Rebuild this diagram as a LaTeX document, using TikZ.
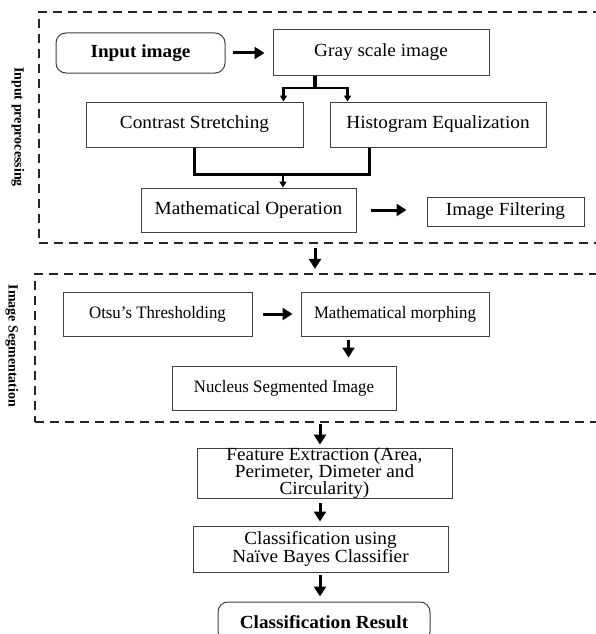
\documentclass[tikz,border=0pt]{standalone}
\usepackage{fontspec}
\setmainfont[FakeStretch=1.04]{Liberation Serif}
\newfontfamily\tagfont{Liberation Serif}
\newfontfamily\segfont[FakeStretch=0.96]{Liberation Serif}
\usetikzlibrary{arrows.meta,calc}
\tikzset{
    proc/.style =   {rectangle,
                    draw=black!75,
                    fill=white,
                    text=black,
                    line width=1pt,
                    inner sep=0pt,
                    align=center,
                    font=\fontsize{18.5}{17}\selectfont},
    seg/.style =    {proc,
                    font=\segfont\fontsize{17.5}{17}\selectfont},
    term/.style =   {proc,
                    rounded corners=10pt,
                    font=\fontsize{18.5}{17}\selectfont\bfseries},
    stage/.style =  {rectangle,
                    draw=black!85,
                    dash pattern=on 9pt off 6pt,
                    line width=2.2pt,
                    inner sep=0pt},
    tag/.style =    {rotate=-90,
                    inner sep=0pt,
                    font=\tagfont\fontsize{14}{14}\selectfont\bfseries},
    -,
    flow/.style =   {line width=3pt,
                    -{Triangle[length=10pt,width=12pt]}},
    branch/.style = {line width=2.5pt,
                    -{Triangle[length=6pt,width=7pt]}},
    wire/.style =   {line width=3pt}}

\begin{document}
\begin{tikzpicture}[x=1pt,y=-1pt]
                \useasboundingbox (0,0) rectangle (596,634);
                \node[stage, minimum width=571pt, minimum height=231pt] (pre) at (324.5,127.5) {};
                \node[stage, minimum width=575pt, minimum height=148pt] (segbox) at (322.5,348) {};
                \node[tag]  (pretag) at (18,127) {Input preprocessing};
                \node[tag]  (segtag) at (12,346) {Image Segmentation};

                \node[term, minimum width=169pt, minimum height=40pt] (input)    at (140.5,53)   {Input image};
                \node[proc, minimum width=216pt, minimum height=45pt] (gray)     at (381,52.5)   {Gray scale image};
                \node[proc, minimum width=217pt, minimum height=45pt] (contrast) at (194.5,124.5) {Contrast Stretching};
                \node[proc, minimum width=216pt, minimum height=45pt] (hist)     at (438,124.5)  {Histogram Equalization};
                \node[proc, minimum width=215pt, minimum height=44pt] (math)     at (248.5,210)  {Mathematical Operation};
                \node[proc, minimum width=157pt, minimum height=29pt] (filter)   at (505.5,211.5) {Image Filtering};
                \node[seg,  minimum width=189pt, minimum height=44pt] (otsu)     at (157.5,314)  {Otsu’s Thresholding};
                \node[seg,  minimum width=188pt, minimum height=44pt] (morph)    at (395,314)    {Mathematical morphing};
                \node[seg,  minimum width=224pt, minimum height=44pt] (nucleus)  at (284,388)    {Nucleus Segmented Image};
                \node[proc, minimum width=255pt, minimum height=45pt] (feature)  at (324.5,473.5) {Feature Extraction (Area,\\Perimeter, Dimeter and\\Circularity)};
                \node[proc, minimum width=255pt, minimum height=46pt] (naive)    at (320.5,549)  {Classification using\\Naïve Bayes Classifier};
                \node[term, minimum width=212pt, minimum height=40pt] (result)   at (324,622)    {Classification Result};

                \coordinate (axis)  at (315,0);
                \coordinate (col)   at (320,0);
                \coordinate (split) at (315,88);
                \coordinate (merge) at (283,174);
                \coordinate (left)  at ($(contrast.north east)+(-20,0)$);
                \coordinate (right) at ($(hist.north west)+(18,0)$);
                \coordinate (mdrop) at ($(morph.south west)+(48,0)$);

                \draw[flow, shorten <=7pt, shorten >=8pt]   (input) -- (input -| gray.west);
                \draw[wire, line width=4pt]                 (axis |- gray.south) -- (split);
                \draw[branch]                               (split) -| (left);
                \draw[branch]                               (split) -| (right);
                \draw[wire]                                 (contrast.south) |- ($(hist.south west)+(40,27)$) -- ($(hist.south west)+(40,0)$);
                \draw[branch]                               (merge) -- (merge |- math.north);
                \draw[flow, shorten <=14pt, shorten >=20pt] (math) -- (math -| filter.west);
                \draw[flow, shorten <=4pt, shorten >=4pt]   (axis |- pre.south) -- (axis |- segbox.north);
                \draw[flow, shorten <=10pt, shorten >=8pt]  (otsu) -- (otsu -| morph.west);
                \draw[flow, shorten <=3pt, shorten >=8pt]   (mdrop) -- (mdrop |- nucleus.north);
                \draw[flow, shorten <=1pt, shorten >=3pt]   (col |- segbox.south) -- (col |- feature.north);
                \draw[flow, shorten <=4pt, shorten >=4pt]   (col |- feature.south) -- (col |- naive.north);
                \draw[flow, shorten <=2pt, shorten >=5pt]   (col |- naive.south) -- (col |- result.north);
\end{tikzpicture}
\end{document}
